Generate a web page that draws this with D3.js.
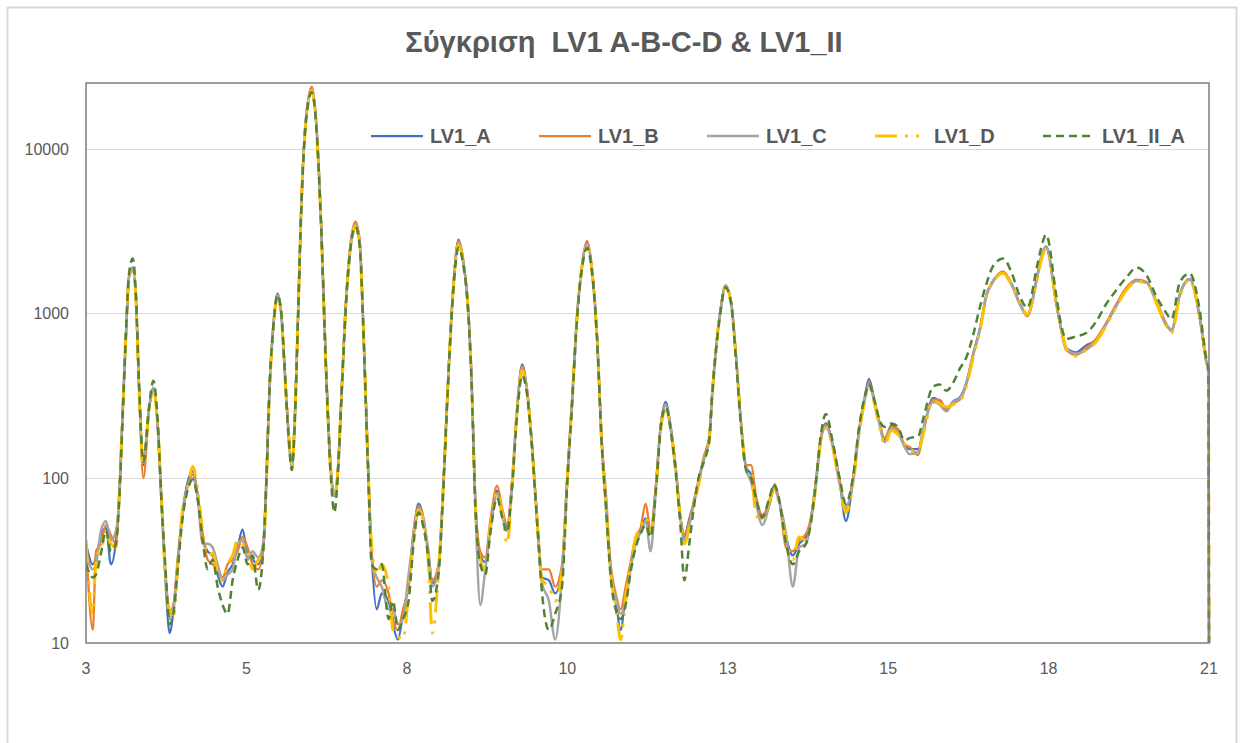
<!DOCTYPE html>
<html>
<head>
<meta charset="utf-8">
<script src="https://cdn.jsdelivr.net/npm/d3@7/dist/d3.min.js"></script>
<style>
    body { margin: 0; background: #ffffff; }
    svg text { font-family: "Liberation Sans", Arial, sans-serif; fill: #595959; }
</style>
</head>
<body>
<svg id="chart" width="1242" height="743"></svg>
<script>
// x positions (2theta) shared by all series
var xValues = [
    3.00, 3.11, 3.16, 3.24, 3.32, 3.40, 3.48, 3.53, 3.59, 3.64,
    3.69, 3.75, 3.80, 3.85, 3.92, 4.01, 4.08, 4.15, 4.21, 4.28,
    4.34, 4.41, 4.47, 4.55, 4.63, 4.71, 4.79, 4.87, 4.95, 5.03,
    5.11, 5.19, 5.27, 5.35, 5.43, 5.51, 5.59, 5.67, 5.76, 5.84,
    5.89, 5.94, 6.00, 6.07, 6.13, 6.18, 6.24, 6.30, 6.35, 6.40,
    6.45, 6.53, 6.62, 6.69, 6.77, 6.85, 6.93, 6.98, 7.04, 7.09,
    7.17, 7.25, 7.32, 7.39, 7.44, 7.52, 7.58, 7.66, 7.74, 7.85,
    7.92, 8.00, 8.08, 8.17, 8.25, 8.33, 8.41, 8.49, 8.55, 8.65,
    8.73, 8.81, 8.89, 8.97, 9.05, 9.13, 9.18, 9.24, 9.32, 9.40,
    9.48, 9.59, 9.67, 9.75, 9.83, 9.91, 9.99, 10.07, 10.15, 10.23,
    10.31, 10.42, 10.52, 10.63, 10.71, 10.79, 10.87, 10.95, 11.03, 11.11,
    11.19, 11.27, 11.33, 11.41, 11.49, 11.57, 11.65, 11.73, 11.81, 11.89,
    11.97, 12.05, 12.13, 12.21, 12.29, 12.37, 12.45, 12.53, 12.59, 12.67,
    12.75, 12.83, 12.91, 12.99, 13.04, 13.09, 13.17, 13.25, 13.34, 13.42,
    13.50, 13.58, 13.66, 13.74, 13.84, 13.95, 14.03, 14.11, 14.22, 14.33,
    14.43, 14.54, 14.62, 14.70, 14.78, 14.86, 14.97, 15.08, 15.18, 15.29,
    15.40, 15.48, 15.55, 15.64, 15.72, 15.80, 15.91, 16.01, 16.12, 16.20,
    16.34, 16.42, 16.58, 16.68, 16.79, 16.90, 17.01, 17.11, 17.22, 17.33,
    17.43, 17.54, 17.70, 17.84, 17.96, 18.09, 18.24, 18.31, 18.39, 18.55,
    18.63, 18.71, 18.87, 19.03, 19.19, 19.34, 19.51, 19.68, 19.84, 20.00,
    20.16, 20.32, 20.40, 20.53, 20.69, 20.85, 20.95, 20.99, 21.00
];

var lv1A = [
    40, 30, 33, 45, 50, 30, 42, 75, 263, 735,
    1670, 1900, 1230, 360, 120, 263, 350, 205, 73, 22,
    11.5, 17, 31, 63, 95, 110, 78, 44, 36, 34,
    26, 22, 27, 30, 38, 49, 34, 32, 30, 38,
    95, 340, 815, 1320, 1000, 490, 205, 117, 250, 1000,
    4400, 15800, 23000, 14300, 3400, 440, 105, 78, 117, 293,
    1230, 2780, 3500, 2630, 950, 123, 34, 16, 20, 18,
    13, 10.5, 15, 23, 46, 70, 57, 34, 23, 29,
    95, 440, 1500, 2800, 2040, 1000, 400, 73, 34, 31,
    51, 84, 63, 50, 95, 263, 490, 340, 158, 57,
    25, 24, 20, 28, 95, 290, 950, 1950, 2700, 1850,
    735, 158, 73, 28, 18.5, 12, 20, 29, 42, 49,
    57, 46, 85, 205, 290, 205, 117, 57, 44, 57,
    73, 100, 135, 175, 340, 570, 1050, 1480, 1170, 540,
    215, 117, 105, 73, 57, 73, 90, 73, 44, 34,
    40, 44, 57, 95, 175, 215, 158, 95, 55, 95,
    205, 307, 400, 293, 215, 170, 210, 195, 158, 150,
    150, 195, 307, 293, 260, 293, 310, 380, 570, 815,
    1290, 1580, 1780, 1500, 1170, 980, 1650, 2200, 2550, 1170,
    807, 617, 580, 640, 690, 850, 1120, 1420, 1580, 1540,
    1170, 850, 790, 1300, 1620, 950, 525, 445, 10
];

var lv1B = [
    42, 12, 36, 40, 52, 45, 40, 78, 270, 720,
    1650, 1850, 1250, 340, 100, 255, 350, 210, 75, 25,
    15, 18, 33, 60, 90, 105, 80, 46, 32, 30,
    28, 25, 30, 32, 36, 44, 38, 30, 28, 36,
    98, 350, 830, 1300, 1010, 500, 210, 120, 240, 980,
    4500, 16000, 23800, 14600, 3500, 450, 108, 80, 120, 300,
    1250, 2850, 3600, 2700, 970, 125, 36, 22, 24, 20,
    14, 12, 16, 22, 48, 68, 56, 33, 24, 30,
    98, 450, 1520, 2750, 2060, 1020, 410, 75, 36, 33,
    55, 90, 66, 52, 98, 270, 480, 345, 160, 58,
    28, 28, 22, 30, 98, 300, 970, 1980, 2750, 1880,
    750, 165, 85, 30, 20, 16, 22, 31, 44, 50,
    70, 48, 88, 210, 275, 210, 120, 58, 46, 55,
    75, 102, 138, 180, 345, 575, 1060, 1450, 1180, 550,
    220, 120, 120, 78, 60, 70, 88, 75, 38, 36,
    42, 46, 58, 98, 180, 210, 160, 98, 65, 98,
    210, 300, 380, 290, 218, 175, 205, 200, 160, 155,
    138, 190, 300, 300, 265, 285, 300, 370, 560, 800,
    1270, 1560, 1800, 1480, 1150, 960, 1600, 2150, 2500, 1150,
    790, 600, 560, 617, 700, 860, 1130, 1440, 1600, 1550,
    1180, 860, 780, 1280, 1600, 960, 520, 440, 10
];

var lv1C = [
    35, 28, 30, 48, 55, 42, 48, 72, 255, 740,
    1680, 1900, 1220, 365, 125, 265, 355, 200, 70, 24,
    14, 17, 30, 62, 90, 100, 76, 40, 40, 38,
    30, 24, 26, 28, 40, 42, 32, 36, 33, 40,
    92, 335, 800, 1280, 990, 485, 200, 118, 255, 1010,
    4350, 15600, 22800, 14200, 3380, 430, 104, 80, 115, 290,
    1220, 2750, 3500, 2600, 940, 120, 32, 25, 22, 16,
    16, 13, 14, 26, 44, 66, 55, 36, 22, 28,
    94, 435, 1480, 2700, 2020, 990, 395, 70, 17, 28,
    48, 80, 60, 48, 92, 260, 460, 335, 155, 55,
    23, 18, 10.5, 26, 92, 285, 940, 1930, 2650, 1830,
    730, 155, 75, 27, 19, 15, 18, 28, 40, 47,
    55, 36, 82, 200, 280, 200, 115, 56, 42, 52,
    72, 98, 132, 172, 335, 565, 1040, 1470, 1160, 535,
    210, 115, 95, 70, 52, 68, 86, 72, 46, 22,
    38, 40, 55, 92, 172, 205, 155, 92, 68, 92,
    200, 295, 370, 285, 210, 165, 200, 190, 155, 140,
    145, 200, 290, 280, 255, 290, 305, 375, 560, 810,
    1280, 1570, 1760, 1490, 1160, 970, 1620, 2180, 2520, 1160,
    800, 610, 570, 600, 680, 840, 1100, 1400, 1570, 1530,
    1160, 840, 800, 1290, 1610, 940, 530, 430, 10
];

var lv1D = [
    42, 15, 32, 38, 45, 40, 38, 76, 260, 730,
    1640, 1850, 1240, 350, 118, 260, 345, 205, 78, 22,
    16, 15, 29, 65, 88, 118, 85, 48, 34, 35,
    27, 24, 30, 34, 42, 40, 36, 28, 32, 34,
    90, 330, 790, 1250, 980, 480, 200, 115, 245, 990,
    4300, 15400, 22500, 14000, 3300, 420, 100, 76, 114, 285,
    1200, 2700, 3400, 2550, 920, 118, 38, 26, 30, 22,
    12, 11, 10.5, 20, 42, 64, 55, 30, 11.5, 27,
    92, 430, 1450, 2600, 2000, 980, 390, 72, 32, 28,
    50, 82, 62, 40, 90, 255, 450, 330, 152, 56,
    24, 22, 18, 27, 90, 280, 930, 1900, 2600, 1800,
    720, 150, 72, 26, 17, 10.5, 19, 30, 43, 52,
    58, 47, 80, 195, 260, 200, 112, 55, 40, 50,
    70, 96, 130, 170, 330, 560, 1030, 1450, 1150, 530,
    212, 118, 110, 60, 55, 72, 85, 70, 42, 32,
    44, 42, 56, 90, 170, 200, 152, 90, 62, 90,
    198, 290, 360, 280, 205, 160, 195, 185, 162, 148,
    145, 185, 295, 285, 270, 280, 295, 360, 540, 790,
    1250, 1550, 1750, 1470, 1180, 990, 1580, 2100, 2450, 1200,
    820, 620, 550, 600, 670, 830, 1090, 1390, 1560, 1520,
    1150, 830, 760, 1250, 1590, 980, 540, 450, 10
];

var lv1IIA = [
    30, 25, 26, 35, 48, 36, 40, 70, 250, 760,
    1750, 2150, 1300, 380, 125, 270, 390, 220, 72, 26,
    13, 16, 28, 58, 85, 98, 74, 42, 28, 32,
    22, 17, 15, 24, 32, 38, 30, 34, 21, 36,
    94, 345, 810, 1290, 1000, 495, 195, 112, 235, 1000,
    4200, 15200, 22000, 13800, 3250, 420, 95, 62, 110, 280,
    1180, 2650, 3350, 2500, 900, 115, 30, 28, 30, 14,
    18, 12, 14, 18, 40, 62, 50, 32, 18, 26,
    90, 420, 1420, 2500, 1950, 960, 380, 68, 30, 26,
    46, 76, 58, 47, 88, 245, 420, 320, 150, 54,
    20, 12, 15, 22, 88, 275, 920, 1880, 2500, 1780,
    710, 150, 70, 25, 16, 14, 17, 27, 38, 46,
    52, 44, 80, 200, 270, 198, 110, 50, 24, 40,
    70, 105, 128, 170, 330, 555, 1020, 1440, 1150, 520,
    205, 112, 100, 75, 58, 75, 92, 74, 40, 30,
    36, 40, 54, 95, 185, 245, 165, 100, 70, 100,
    215, 310, 370, 295, 225, 205, 215, 205, 170, 175,
    180, 230, 360, 370, 340, 380, 465, 540, 740, 1100,
    1500, 1940, 2150, 1750, 1290, 1080, 1900, 2500, 3000, 1300,
    850, 700, 725, 760, 890, 1120, 1380, 1660, 1900, 1700,
    1260, 1000, 920, 1535, 1750, 1050, 550, 470, 10
];

var seriesNames = ["LV1_A", "LV1_B", "LV1_C", "LV1_D", "LV1_II_A"];
var xTickLabels = ["3", "5", "8", "10", "13", "15", "18", "21"];
var yTickValues = [10, 100, 1000, 10000];
var titleText = "Σύγκριση  LV1 A-B-C-D & LV1_II";

// line look, same order as seriesNames
var colors = ["#4472c4", "#ed7d31", "#a5a5a5", "#ffc000", "#548235"];
var widths = [2.25, 2.25, 2.5, 3, 2.5];
var dashes = [null, null, null, "22 8 3 8 3 8", "8 5"];

var allSeries = [lv1A, lv1B, lv1C, lv1D, lv1IIA];

var margin = { top: 83, right: 33, bottom: 100, left: 86 },
    width = 1242 - margin.left - margin.right,
    height = 743 - margin.top - margin.bottom;

var svg = d3.select("#chart");

// outer chart border
svg.append("rect")
    .attr("x", 7.5)
    .attr("y", 7.5)
    .attr("width", 1229)
    .attr("height", 760)
    .attr("fill", "none")
    .attr("stroke", "#d9d9d9")
    .attr("stroke-width", 2);

svg.append("text")
    .attr("x", 624)
    .attr("y", 52)
    .attr("text-anchor", "middle")
    .style("font-size", "29px")
    .style("font-weight", "bold")
    .style("white-space", "pre")
    .attr("xml:space", "preserve")
    .text(titleText);

var g = svg.append("g")
    .attr("transform", "translate(" + margin.left + "," + margin.top + ")");

var xScale = d3.scaleLinear()
    .domain([3, 21])
    .range([0, width]);

var yScale = d3.scaleLog()
    .domain([10, 25000])
    .range([height, 0]);

// gridlines
g.selectAll(".grid")
    .data(yTickValues.slice(1))
    .enter().append("line")
    .attr("class", "grid")
    .attr("x1", 0)
    .attr("x2", width)
    .attr("y1", function (d) { return Math.round(yScale(d)) + 0.5; })
    .attr("y2", function (d) { return Math.round(yScale(d)) + 0.5; })
    .attr("stroke", "#d9d9d9")
    .attr("stroke-width", 1);

// y labels
g.selectAll(".ylab")
    .data(yTickValues)
    .enter().append("text")
    .attr("class", "ylab")
    .attr("x", -17)
    .attr("y", function (d) { return yScale(d) + 6; })
    .attr("text-anchor", "end")
    .style("font-size", "16px")
    .text(function (d) { return d; });

// x labels, evenly spaced over the axis
var xTickPos = xTickLabels.map(function (d, i) {
    return 3 + i * 18 / (xTickLabels.length - 1);
});
g.selectAll(".xlab")
    .data(xTickLabels)
    .enter().append("text")
    .attr("class", "xlab")
    .attr("x", function (d, i) { return xScale(xTickPos[i]); })
    .attr("y", height + 31)
    .attr("text-anchor", "middle")
    .style("font-size", "16px")
    .text(function (d) { return d; });

g.append("clipPath")
    .attr("id", "plotclip")
    .append("rect")
    .attr("x", 0)
    .attr("y", 0)
    .attr("width", width + 2)
    .attr("height", height);

var line = d3.line()
    .x(function (d, i) { return xScale(xValues[i]); })
    .y(function (d) { return yScale(d); })
    .curve(d3.curveMonotoneX);

var lines = g.append("g").attr("clip-path", "url(#plotclip)");

allSeries.forEach(function (s, k) {
    lines.append("path")
        .datum(s)
        .attr("fill", "none")
        .attr("stroke", colors[k])
        .attr("stroke-width", widths[k])
        .attr("stroke-dasharray", dashes[k])
        .attr("stroke-linejoin", "round")
        .attr("d", line);
});

// plot area frame
g.append("rect")
    .attr("x", 0)
    .attr("y", 0)
    .attr("width", width)
    .attr("height", height)
    .attr("fill", "none")
    .attr("stroke", "#7f7f7f")
    .attr("stroke-width", 1.5);

// legend
var legend = svg.append("g");
seriesNames.forEach(function (name, k) {
    var lx = 371 + k * 168;
    legend.append("line")
        .attr("x1", lx)
        .attr("x2", lx + 52)
        .attr("y1", 136)
        .attr("y2", 136)
        .attr("stroke", colors[k])
        .attr("stroke-width", widths[k])
        .attr("stroke-dasharray", dashes[k]);
    legend.append("text")
        .attr("x", lx + 59)
        .attr("y", 143)
        .style("font-size", "20px")
        .style("font-weight", "bold")
        .text(name);
});
</script>
</body>
</html>
